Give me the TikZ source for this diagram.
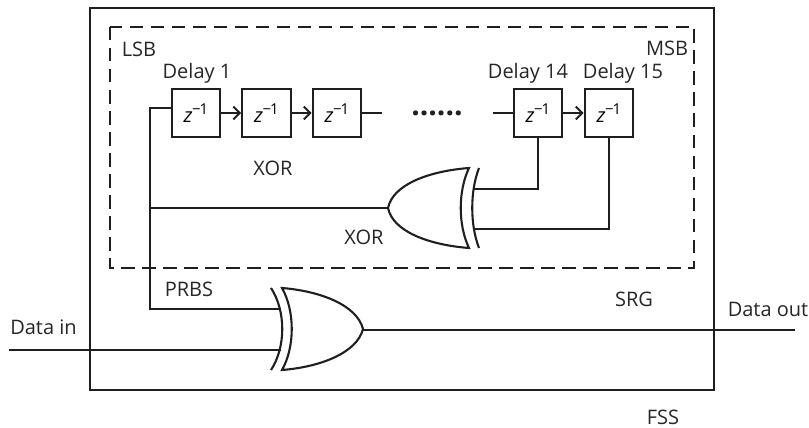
\documentclass[tikz,border=0pt]{standalone}
\usepackage{fontspec}
\setmainfont{Open Sans}
\usetikzlibrary{arrows.meta}
\tikzset{
  x=1pt,y=-1pt,
  wire/.style={line width=1.9pt,draw=black!88},
  arrowwire/.style={wire,-{Straight Barb[length=6.5pt,width=13pt,line width=1.9pt]}},
  delaybox/.style={draw=black!88,line width=2.3pt,minimum width=48.5pt,minimum height=48.5pt,inner sep=0pt,fill=white},
  gateline/.style={line width=2.1pt,draw=black!88,line join=miter},
  frame/.style={draw=black!88,line width=2.1pt},
  dashframe/.style={draw=black!88,line width=2.2pt,dash pattern=on 13.5pt off 7.5pt},
  lbl/.style={inner sep=0pt,anchor=base,font=\fontsize{20}{22}\selectfont,text=black!85},
}
\newcommand{\zinv}{\fontsize{20}{20}\selectfont\textit{z}\kern-0.5pt\raisebox{8pt}{\fontsize{15}{15}\selectfont −\kern-1pt 1}}
\begin{document}
\begin{tikzpicture}
\useasboundingbox (0,0) rectangle (809,428);
% frames
\draw[frame] (90,8) rectangle (714,390);
\draw[dashframe] (110,27) rectangle (694,268);
% delay boxes
\node[delaybox] (d1) at (196,113) {\zinv};
\node[delaybox] (d2) at (266.5,113) {\zinv};
\node[delaybox] (d3) at (337,113) {\zinv};
\node[delaybox] (d14) at (538,113) {\zinv};
\node[delaybox] (d15) at (609,113) {\zinv};
% wires between delays
\draw[arrowwire] (d1.east) -- (d2.west);
\draw[arrowwire] (d2.east) -- (d3.west);
\draw[arrowwire] (d14.east) -- (d15.west);
\coordinate (gapL) at (382,113);
\coordinate (gapR) at (493,113);
\draw[wire] (d3.east) -- (gapL);
\draw[wire] (gapR) -- (d14.west);
\node[inner sep=0pt,anchor=base,font=\fontsize{30}{30}\selectfont\bfseries,text=black!88] (dots) at (437,115.5) {......};
% upper XOR
\draw[gateline] (469,168) .. controls (430,171) and (393,184) .. (388,208)
  .. controls (393,232) and (430,245) .. (469,248)
  .. controls (458,225) and (458,191) .. (469,168) -- cycle;
\draw[gateline] (479,168) .. controls (470,191) and (470,225) .. (479,248);
\coordinate (xa) at (473,189);
\coordinate (xb) at (473,229);
\coordinate (xo) at (388,208);
% lower XOR
\draw[gateline] (282,288) .. controls (320,291) and (357,305) .. (363,329)
  .. controls (357,353) and (320,367) .. (282,370)
  .. controls (295,347) and (295,311) .. (282,288) -- cycle;
\draw[gateline] (271,288) .. controls (286,311) and (286,347) .. (271,370);
\coordinate (ya) at (281,309);
\coordinate (yb) at (281,350);
\coordinate (yo) at (363,330);
% feedback wires
\draw[wire] (d14.south) |- (xa);
\draw[wire] (d15.south) |- (xb);
\coordinate (tap) at (150,208);
\draw[wire] (xo) -- (tap);
\coordinate (turnT) at (150,108);
\coordinate (turnB) at (150,309);
\draw[wire,line join=miter] (171,108) -- (turnT) -- (turnB) -- (ya);
\coordinate (datain) at (9,350);
\coordinate (dataout) at (795,330);
\draw[wire] (datain) -- (yb);
\draw[wire] (yo) -- (dataout);
% labels
\node[lbl] (lsb) at (139,57) {LSB};
\node[lbl] (msb) at (667,56) {MSB};
\node[lbl] (t1) at (197,78) {Delay 1};
\node[lbl] (t14) at (528,78) {Delay 14};
\node[lbl] (t15) at (623,78) {Delay 15};
\node[lbl] (x1) at (273,175) {XOR};
\node[lbl] (x2) at (364,244) {XOR};
\node[lbl] (prbs) at (189,296) {PRBS};
\node[lbl] (srg) at (634,306) {SRG};
\node[lbl] (din) at (43.5,334) {Data in};
\node[lbl] (dout) at (768,316) {Data out};
\node[lbl] (fss) at (663,424) {FSS};
\end{tikzpicture}
\end{document}
